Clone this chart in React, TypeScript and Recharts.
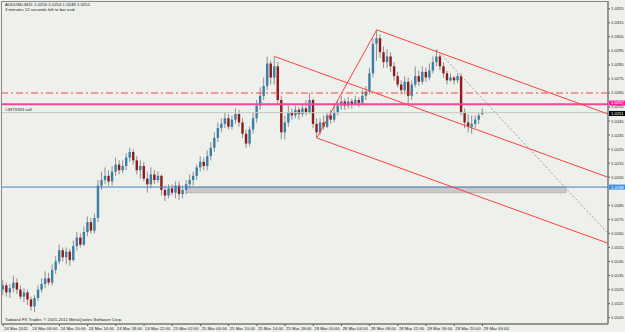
import React from 'react'
import { ComposedChart, Bar, XAxis, YAxis, ReferenceLine, ReferenceArea } from 'recharts'

document.body.style.margin = '0'

const FONT = '"Liberation Sans", Arial, sans-serif'

// AUDUSD M15 bars
const opens = [
  1.0125, 1.0128, 1.0123, 1.0126, 1.0130, 1.0125, 1.0120, 1.0123, 1.0118, 1.0113,
  1.0119, 1.0125, 1.0129, 1.0133, 1.0130, 1.0139, 1.0145, 1.0153, 1.0148, 1.0152,
  1.0146, 1.0156, 1.0162, 1.0157, 1.0166, 1.0173, 1.0167, 1.0176, 1.0199, 1.0203,
  1.0206, 1.0202, 1.0209, 1.0214, 1.0210, 1.0213, 1.0219, 1.0223, 1.0217, 1.0210,
  1.0213, 1.0204, 1.0200, 1.0207, 1.0203, 1.0206, 1.0196, 1.0192, 1.0197, 1.0194,
  1.0199, 1.0193, 1.0196, 1.0200, 1.0203, 1.0206, 1.0212, 1.0216, 1.0213, 1.0220,
  1.0226, 1.0233, 1.0240, 1.0243, 1.0247, 1.0241, 1.0246, 1.0250, 1.0244, 1.0236,
  1.0229, 1.0239, 1.0247, 1.0256, 1.0263, 1.0270, 1.0286, 1.0276, 1.0284, 1.0260,
  1.0237, 1.0244, 1.0251, 1.0249, 1.0253, 1.0250, 1.0254, 1.0251, 1.0260, 1.0243,
  1.0237, 1.0244, 1.0241, 1.0249, 1.0246, 1.0251, 1.0256, 1.0259, 1.0256, 1.0259,
  1.0257, 1.0260, 1.0258, 1.0263, 1.0266, 1.0279, 1.0300, 1.0304, 1.0294, 1.0287,
  1.0291, 1.0284, 1.0277, 1.0271, 1.0267, 1.0273, 1.0263, 1.0271, 1.0277, 1.0273,
  1.0280, 1.0276, 1.0281, 1.0287, 1.0291, 1.0284, 1.0279, 1.0274, 1.0276, 1.0274,
  1.0277, 1.0251, 1.0244, 1.0241, 1.0243, 1.0246, 1.0250,
]
const highs = [
  1.0132, 1.0130, 1.0129, 1.0135, 1.0133, 1.0128, 1.0126, 1.0125, 1.0120, 1.0121,
  1.0128, 1.0133, 1.0138, 1.0137, 1.0143, 1.0149, 1.0157, 1.0155, 1.0155, 1.0154,
  1.0160, 1.0166, 1.0165, 1.0170, 1.0177, 1.0176, 1.0179, 1.0203, 1.0209, 1.0212,
  1.0210, 1.0213, 1.0219, 1.0217, 1.0217, 1.0222, 1.0226, 1.0225, 1.0220, 1.0217,
  1.0216, 1.0209, 1.0212, 1.0210, 1.0209, 1.0207, 1.0199, 1.0200, 1.0200, 1.0202,
  1.0202, 1.0199, 1.0203, 1.0207, 1.0209, 1.0214, 1.0220, 1.0219, 1.0224, 1.0230,
  1.0237, 1.0244, 1.0247, 1.0251, 1.0250, 1.0249, 1.0254, 1.0253, 1.0247, 1.0239,
  1.0241, 1.0251, 1.0260, 1.0269, 1.0276, 1.0291, 1.0288, 1.0291, 1.0287, 1.0263,
  1.0249, 1.0256, 1.0254, 1.0256, 1.0255, 1.0257, 1.0260, 1.0265, 1.0261, 1.0247,
  1.0247, 1.0249, 1.0251, 1.0253, 1.0256, 1.0260, 1.0263, 1.0261, 1.0262, 1.0261,
  1.0263, 1.0262, 1.0267, 1.0270, 1.0283, 1.0304, 1.0310, 1.0307, 1.0298, 1.0296,
  1.0294, 1.0287, 1.0280, 1.0274, 1.0277, 1.0276, 1.0274, 1.0284, 1.0281, 1.0284,
  1.0283, 1.0286, 1.0291, 1.0296, 1.0293, 1.0287, 1.0281, 1.0279, 1.0277, 1.0279,
  1.0279, 1.0254, 1.0250, 1.0249, 1.0249, 1.0251, 1.0254,
]
const lows = [
  1.0121, 1.0120, 1.0119, 1.0123, 1.0122, 1.0118, 1.0116, 1.0114, 1.0110, 1.0109,
  1.0117, 1.0123, 1.0126, 1.0128, 1.0128, 1.0136, 1.0143, 1.0145, 1.0143, 1.0142,
  1.0145, 1.0153, 1.0155, 1.0156, 1.0163, 1.0165, 1.0165, 1.0173, 1.0196, 1.0200,
  1.0199, 1.0199, 1.0206, 1.0207, 1.0208, 1.0210, 1.0216, 1.0214, 1.0207, 1.0204,
  1.0202, 1.0194, 1.0197, 1.0200, 1.0201, 1.0192, 1.0188, 1.0190, 1.0192, 1.0190,
  1.0189, 1.0190, 1.0193, 1.0197, 1.0199, 1.0203, 1.0209, 1.0210, 1.0210, 1.0217,
  1.0223, 1.0230, 1.0237, 1.0240, 1.0239, 1.0239, 1.0243, 1.0241, 1.0233, 1.0226,
  1.0227, 1.0236, 1.0244, 1.0253, 1.0260, 1.0267, 1.0271, 1.0271, 1.0257, 1.0232,
  1.0232, 1.0241, 1.0246, 1.0247, 1.0246, 1.0248, 1.0249, 1.0250, 1.0240, 1.0233,
  1.0235, 1.0239, 1.0240, 1.0243, 1.0244, 1.0249, 1.0253, 1.0253, 1.0254, 1.0254,
  1.0256, 1.0255, 1.0256, 1.0260, 1.0264, 1.0276, 1.0288, 1.0290, 1.0283, 1.0283,
  1.0280, 1.0274, 1.0269, 1.0264, 1.0264, 1.0257, 1.0260, 1.0269, 1.0270, 1.0271,
  1.0273, 1.0274, 1.0279, 1.0284, 1.0281, 1.0276, 1.0271, 1.0273, 1.0271, 1.0272,
  1.0249, 1.0240, 1.0237, 1.0236, 1.0240, 1.0243, 1.0249,
]
const closes = [
  1.0128, 1.0123, 1.0126, 1.0130, 1.0125, 1.0120, 1.0123, 1.0118, 1.0113, 1.0119,
  1.0125, 1.0129, 1.0133, 1.0130, 1.0139, 1.0145, 1.0153, 1.0148, 1.0152, 1.0146,
  1.0156, 1.0162, 1.0157, 1.0166, 1.0173, 1.0167, 1.0176, 1.0199, 1.0203, 1.0206,
  1.0202, 1.0209, 1.0214, 1.0210, 1.0213, 1.0219, 1.0223, 1.0217, 1.0210, 1.0213,
  1.0204, 1.0200, 1.0207, 1.0203, 1.0206, 1.0196, 1.0192, 1.0197, 1.0194, 1.0199,
  1.0193, 1.0196, 1.0200, 1.0203, 1.0206, 1.0212, 1.0216, 1.0213, 1.0220, 1.0226,
  1.0233, 1.0240, 1.0243, 1.0247, 1.0241, 1.0246, 1.0250, 1.0244, 1.0236, 1.0229,
  1.0239, 1.0247, 1.0256, 1.0263, 1.0270, 1.0286, 1.0276, 1.0284, 1.0260, 1.0237,
  1.0244, 1.0251, 1.0249, 1.0253, 1.0250, 1.0254, 1.0251, 1.0260, 1.0243, 1.0237,
  1.0244, 1.0241, 1.0249, 1.0246, 1.0251, 1.0256, 1.0259, 1.0256, 1.0259, 1.0257,
  1.0260, 1.0258, 1.0263, 1.0266, 1.0279, 1.0300, 1.0304, 1.0294, 1.0287, 1.0291,
  1.0284, 1.0277, 1.0271, 1.0267, 1.0273, 1.0263, 1.0271, 1.0277, 1.0273, 1.0280,
  1.0276, 1.0281, 1.0287, 1.0291, 1.0284, 1.0279, 1.0274, 1.0276, 1.0274, 1.0277,
  1.0251, 1.0244, 1.0241, 1.0243, 1.0246, 1.0249, 1.0251,
]

const timeTicks = [0, 8, 16, 24, 32, 40, 48, 56, 64, 72, 80, 88, 96, 104, 112, 120, 128, 136]
const timeLabels = [
  '24 Mar 2011', '24 Mar 06:00', '24 Mar 10:00', '24 Mar 14:00', '24 Mar 18:00', '24 Mar 22:00',
  '25 Mar 02:00', '25 Mar 06:00', '25 Mar 10:00', '25 Mar 14:00', '25 Mar 18:00', '28 Mar 00:00',
  '28 Mar 04:00', '28 Mar 08:00', '28 Mar 12:00', '28 Mar 16:00', '28 Mar 20:00', '29 Mar 00:00',
]
const priceTicks = [
  1.0105, 1.0115, 1.0125, 1.0135, 1.0145, 1.0155, 1.0165, 1.0175, 1.0185,
  1.0205, 1.0215, 1.0225, 1.0235, 1.0245, 1.0255, 1.0265, 1.0275, 1.0285,
  1.0295, 1.0305, 1.0315, 1.0325,
]

// objects drawn on the chart
const levelStop = 1.0265
const orderPrice = 1.0257
const bidPrice = 1.0251
const supportPrice = 1.0198
const zone = { from: 52, to: 159.7, top: 1.0198, bottom: 1.0194 }
const channelLines = [
  [{ x: 77, y: 1.0291 }, { x: 171.6, y: 1.0205 }],
  [{ x: 89, y: 1.0233 }, { x: 171.6, y: 1.0158 }],
  [{ x: 106, y: 1.0310 }, { x: 171.6, y: 1.0250 }],
  [{ x: 89, y: 1.0233 }, { x: 106, y: 1.0310 }],
]
const trendLine = [{ x: 123, y: 1.0296 }, { x: 171.6, y: 1.0165 }]

const candles = closes.map((c, i) => ({
  i,
  open: opens[i],
  high: highs[i],
  low: lows[i],
  close: c,
  range: [lows[i], highs[i]],
}))

const Candle = (props: any) => {
  const { x, y, width, height, payload } = props
  const { open, close, high, low } = payload
  const cx = x + width / 2
  const k = high - low > 0 ? height / (high - low) : 0
  const yO = y + (high - open) * k
  const yC = y + (high - close) * k
  const top = Math.min(yO, yC)
  const h = Math.max(Math.abs(yO - yC), 1)
  const up = close >= open
  return (
    <g>
      <line x1={cx} x2={cx} y1={y} y2={y + Math.max(height, 1)} stroke="#8f8f8f" strokeWidth={1} />
      <rect x={cx - 1.2} y={top} width={2.4} height={h} fill={up ? '#3a7fa6' : '#8e1b1b'} />
    </g>
  )
}

const TimeTick = (props: any) => {
  const { x, y, payload } = props
  const idx = timeTicks.indexOf(payload.value)
  return (
    <text x={x + 1} y={y + 4.3} fontSize={4.3} fill="#222" fontFamily={FONT}>
      {timeLabels[idx]}
    </text>
  )
}

// coloured price box in the right margin; shift nudges it off the tick text
const PriceTag = (props: any) => {
  const { viewBox, text, bg, color, shift = 0 } = props
  if (!viewBox) return null
  const x = viewBox.x + viewBox.width
  const y = viewBox.y + shift
  return (
    <g>
      <rect x={x + 1} y={y - 2.5} width={16} height={5} fill={bg} />
      <text x={x + 3} y={y} dy="0.36em" fontSize={4.1} fill={color} fontFamily={FONT}>
        {text}
      </text>
    </g>
  )
}

const App = () => {
  return (
    <div style={{ position: 'relative', width: 625, height: 332, background: '#eef0ec' }}>
      <ComposedChart
        width={625}
        height={332}
        data={candles}
        margin={{ top: 1, right: 0, bottom: 0, left: 2 }}
      >
        <XAxis
          type="number"
          dataKey="i"
          domain={[-0.3, 171.6]}
          ticks={timeTicks}
          interval={0}
          height={8}
          tickSize={2}
          tickMargin={0}
          stroke="#555"
          tick={<TimeTick />}
          allowDataOverflow
        />
        <YAxis
          orientation="right"
          domain={[1.01005, 1.03305]}
          ticks={priceTicks}
          interval={0}
          width={17}
          tickSize={2}
          tickMargin={1}
          stroke="#555"
          tick={{ fontSize: 4.1, fill: '#222', fontFamily: FONT }}
          tickFormatter={(v: number) => v.toFixed(4)}
          allowDataOverflow
        />
        <ReferenceArea
          x1={zone.from}
          x2={zone.to}
          y1={zone.bottom}
          y2={zone.top}
          fill="#c4c4c4"
          fillOpacity={0.9}
          stroke="#b4b4b4"
        />
        <Bar dataKey="range" barSize={3} shape={<Candle />} isAnimationActive={false} />
        <ReferenceLine y={levelStop} stroke="#ff4040" strokeDasharray="7 3 2 3" />
        <ReferenceLine
          y={bidPrice}
          stroke="#c6c6c6"
          label={<PriceTag text={bidPrice.toFixed(4)} bg="#000" color="#fff" shift={0.8} />}
        />
        <ReferenceLine
          y={orderPrice}
          stroke="#f4479b"
          strokeWidth={2}
          label={<PriceTag text={orderPrice.toFixed(4)} bg="#ff1f9e" color="#fff" shift={-1.2} />}
        />
        <ReferenceLine
          y={supportPrice}
          stroke="#4682c8"
          label={<PriceTag text={supportPrice.toFixed(4)} bg="#3f8fe0" color="#fff" />}
        />
        {channelLines.map((seg, k) => (
          <ReferenceLine key={k} segment={seg} stroke="#ff4040" />
        ))}
        <ReferenceLine segment={trendLine} stroke="#a0a0a0" strokeDasharray="2 2" />
      </ComposedChart>
      <svg
        width={625}
        height={332}
        style={{ position: 'absolute', left: 0, top: 0, pointerEvents: 'none' }}
        fontFamily={FONT}
      >
        <rect x={1.5} y={1.5} width={606.5} height={322.5} fill="none" stroke="#8a8a8a" />
        <text x={5} y={6} fontSize={4.3} fill="#222">AUDUSD,M15  1.0250 1.0254 1.0249 1.0251</text>
        <text x={5} y={11} fontSize={4.3} fill="#222">3 minutes 12 seconds left to bar end</text>
        <text x={5} y={111} fontSize={4.3} fill="#222">#4973333 sell</text>
        <text x={5} y={321} fontSize={4.3} fill="#222">Tadawul FX Trader, © 2001-2011 MetaQuotes Software Corp.</text>
      </svg>
    </div>
  )
}

export default App
